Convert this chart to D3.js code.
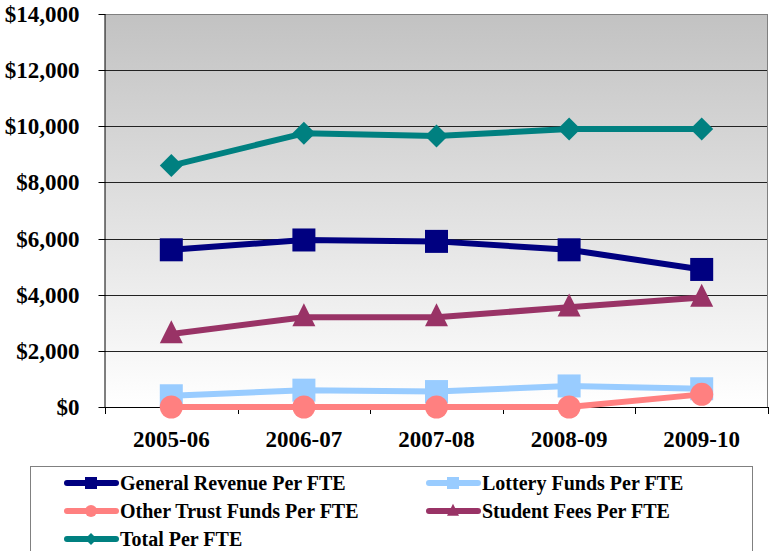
<!DOCTYPE html>
<html><head><meta charset="utf-8">
<script src="https://cdn.jsdelivr.net/npm/d3@7"></script>
<style>body{margin:0;background:#fff;}svg{display:block;}</style>
</head><body>
<svg id="c" width="769" height="551" style="font-family:'Liberation Serif',serif" font-family="Liberation Serif"></svg>
<script>
const categories = ["2005-06","2006-07","2007-08","2008-09","2009-10"];
const generalRevenue = [5600, 5950, 5900, 5600, 4900];
const lotteryFunds = [400, 600, 550, 750, 650];
const otherTrust = [0, 0, 0, 0, 450];
const studentFees = [2600, 3200, 3200, 3550, 3900];
const totalPerFTE = [8600, 9750, 9650, 9900, 9900];
const yTicks = [0, 2000, 4000, 6000, 8000, 10000, 12000, 14000];

const series = [
  {name:"General Revenue Per FTE", values:generalRevenue, color:"#000080", shape:"square"},
  {name:"Lottery Funds Per FTE", values:lotteryFunds, color:"#99CCFF", shape:"square"},
  {name:"Other Trust Funds Per FTE", values:otherTrust, color:"#FF8080", shape:"circle"},
  {name:"Student Fees Per FTE", values:studentFees, color:"#993366", shape:"triangle"},
  {name:"Total Per FTE", values:totalPerFTE, color:"#008080", shape:"diamond"}
];
function txt(sel, size){
  sel.attr("font-family","Liberation Serif").style("font-family","\"Liberation Serif\", serif")
     .style("font-weight","bold").style("font-size",size+"px").attr("fill","#000");
}
const svg = d3.select("#c");
const L=105, R=768, T=14, B=407;
const x = d3.scaleBand().domain(categories).range([L,R]);
const y = d3.scaleLinear().domain([0,14000]).range([B,T]);

const defs = svg.append("defs");
const g = defs.append("linearGradient").attr("id","bg").attr("x1",0).attr("y1",0).attr("x2",0).attr("y2",1);
g.append("stop").attr("offset","0%").attr("stop-color","#c2c2c2");
g.append("stop").attr("offset","100%").attr("stop-color","#ffffff");
svg.append("rect").attr("x",L).attr("y",T).attr("width",R-L).attr("height",B-T).attr("fill","url(#bg)");

svg.append("g").selectAll("line").data(yTicks.slice(1)).join("line")
  .attr("x1",L).attr("x2",R).attr("y1",d=>Math.round(y(d))+0.5).attr("y2",d=>Math.round(y(d))+0.5)
  .attr("stroke",d=>d===14000?"#808080":"#222").attr("stroke-width",1);
svg.append("line").attr("x1",R-0.5).attr("x2",R-0.5).attr("y1",T).attr("y2",B).attr("stroke","#808080");

const ya = svg.append("g").attr("transform",`translate(${L+0.5},0.5)`)
  .call(d3.axisLeft(y).tickValues(yTicks).tickSize(7).tickPadding(6).tickFormat(d=>"$"+d3.format(",")(d)));
ya.attr("font-family",null).attr("font-size",null);
ya.select(".domain").attr("stroke","#000").attr("d",`M-0.5,${T}V${B}`);
ya.selectAll(".tick line").attr("stroke","#000");
ya.selectAll(".tick").attr("transform",d=>`translate(0,${Math.round(y(d))})`);
ya.selectAll("text").call(txt,23).attr("x",-26).attr("dy","0.33em");

const xa = svg.append("g").attr("transform",`translate(0,${B+0.5})`)
  .call(d3.axisBottom(x).tickSize(0).tickPadding(23));
xa.attr("font-family",null).attr("font-size",null);
xa.select(".domain").attr("stroke","#000").attr("d",`M${L},0H${R}`);
xa.selectAll("text").call(txt,23);
svg.append("g").selectAll("line").data(d3.range(categories.length+1)).join("line")
  .attr("x1",i=>Math.round(L+i*x.step())+0.5).attr("x2",i=>Math.round(L+i*x.step())+0.5)
  .attr("y1",B).attr("y2",B+7).attr("stroke","#000");

function marker(sel, shape, size, color){
  const s = size;
  if(shape==="square") sel.append("rect").attr("x",-s/2).attr("y",-s/2).attr("width",s).attr("height",s).attr("fill",color);
  else if(shape==="circle") sel.append("circle").attr("r",s/2).attr("fill",color);
  else if(shape==="triangle") sel.append("path").attr("d",`M0,${-s*0.6}L${s/2},${s*0.4}L${-s/2},${s*0.4}Z`).attr("fill",color);
  else if(shape==="diamond") sel.append("path").attr("d",`M0,${-s/2}L${s/2},0L0,${s/2}L${-s/2},0Z`).attr("fill",color);
}

const cx = d=>x(d)+x.bandwidth()/2;
const line = d3.line().x((d,i)=>cx(categories[i])).y(d=>y(d));
series.forEach(s=>{
  const gg = svg.append("g");
  gg.append("path").attr("d",line(s.values)).attr("fill","none").attr("stroke",s.color).attr("stroke-width",6).attr("stroke-linejoin","round");
  s.values.forEach((v,i)=>{
    const m = gg.append("g").attr("transform",`translate(${cx(categories[i])},${y(v)})`);
    marker(m, s.shape, 23, s.color);
  });
});

svg.append("rect").attr("x",30.5).attr("y",466.5).attr("width",722).attr("height",100).attr("fill","#fff").attr("stroke","#808080").attr("stroke-width",1);
const pos = [[65,483],[427,483],[65,511],[427,511],[65,539]];
series.forEach((s,i)=>{
  const [lx,ly]=pos[i];
  const lg = svg.append("g").attr("transform",`translate(${lx},${ly})`);
  lg.append("line").attr("x1",2).attr("x2",51).attr("y1",0).attr("y2",0).attr("stroke",s.color).attr("stroke-width",6).attr("stroke-linecap","round");
  const m = lg.append("g").attr("transform","translate(26,0)");
  marker(m, s.shape, 12, s.color);
  lg.append("text").attr("x",55).attr("y",0).attr("dy","0.35em").call(txt,20).text(s.name);
});
</script>
</body></html>
